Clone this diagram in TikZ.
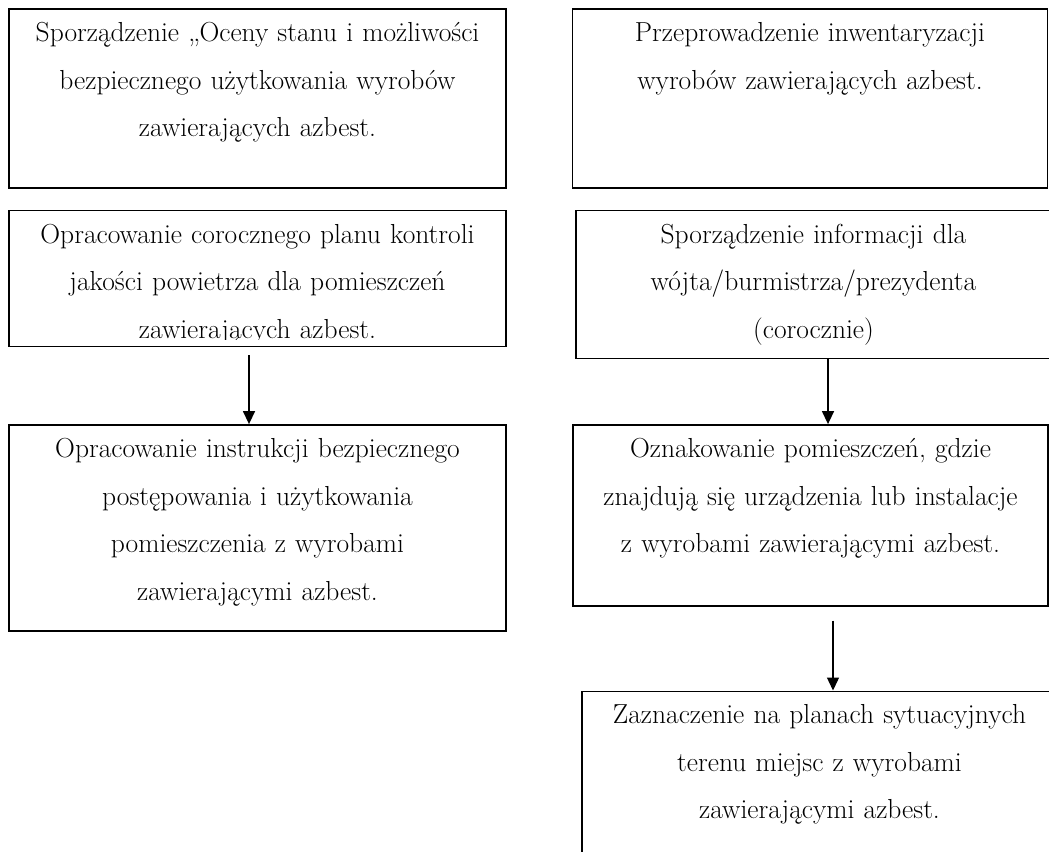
\documentclass[tikz,border=0pt]{standalone}
\usepackage{fontspec}
\usetikzlibrary{positioning,arrows.meta}

\tikzset{
  box/.style={draw, line width=1.4pt, minimum width=497pt, inner sep=0pt},
  rbox/.style={box, minimum width=475pt},
  txt/.style={inner sep=0pt, text width=480pt, align=center, font=\fontsize{27.5}{47.5}\selectfont},
  arr/.style={line width=1.4pt, -{Triangle[length=13pt,width=12pt]}}
}

\begin{document}
\begin{tikzpicture}[node distance=21pt]
    \clip (0,0) rectangle (1049pt,-851pt);

    % left column
    \node[box, minimum height=179pt] (ocena) at (257.5pt,-98.5pt) {};
    \node[box, minimum height=136pt] (plan) [below=of ocena] {};
    \node[box, minimum height=206pt] (instr) [below=77pt of plan] {};

    % right column
    \node[rbox, minimum height=179pt] (inwent) at (810pt,-98.5pt) {};
    \node[rbox, minimum height=148pt] (info) [below=of inwent, xshift=3.5pt] {};
    \node[rbox, minimum height=181pt] (oznak) [below=65pt of info, xshift=-3pt] {};
    \node[rbox, minimum height=220pt] (zazn) [below=84pt of oznak, xshift=9pt] {};

    \node[txt, below=0pt of ocena.north] (ocenaT) {\strut Sporządzenie „Oceny stanu i możliwości\\ bezpiecznego użytkowania wyrobów\\ zawierających azbest.};
    \begin{scope}
      \clip ([yshift=8pt]plan.south west) rectangle (plan.north east);
      \node[txt, below=0pt of plan.north] (planT) {\strut Opracowanie corocznego planu kontroli\\ jakości powietrza dla pomieszczeń\\ zawierających azbest.};
    \end{scope}
    \node[txt, below=0pt of instr.north] (instrT) {\strut Opracowanie instrukcji bezpiecznego\\ postępowania i użytkowania\\ pomieszczenia z wyrobami\\ zawierającymi azbest.};

    \node[txt, text width=460pt, below=0pt of inwent.north] (inwentT) {\strut Przeprowadzenie inwentaryzacji\\ wyrobów zawierających azbest.};
    \node[txt, text width=460pt, below=0pt of info.north] (infoT) {\strut Sporządzenie informacji dla\\ wójta/burmistrza/prezydenta\\ (corocznie)};
    \node[txt, text width=460pt, below=0pt of oznak.north] (oznakT) {\strut Oznakowanie pomieszczeń, gdzie\\ znajdują się urządzenia lub instalacje\\ z wyrobami zawierającymi azbest.};
    \node[txt, text width=460pt, below=0pt of zazn.north] (zaznT) {\strut Zaznaczenie na planach sytuacyjnych\\ terenu miejsc z wyrobami\\ zawierającymi azbest.};

    % arrows
    \coordinate (a1) at ([xshift=-8.5pt,yshift=-8pt]plan.south);
    \coordinate (a2) at ([xshift=14.5pt]info.south);
    \coordinate (a3) at ([xshift=22.5pt,yshift=-14pt]oznak.south);
    \draw[arr] (a1) -- (a1 |- instr.north);
    \draw[arr] (a2) -- (a2 |- oznak.north);
    \draw[arr] (a3) -- (a3 |- zazn.north);
\end{tikzpicture}
\end{document}
